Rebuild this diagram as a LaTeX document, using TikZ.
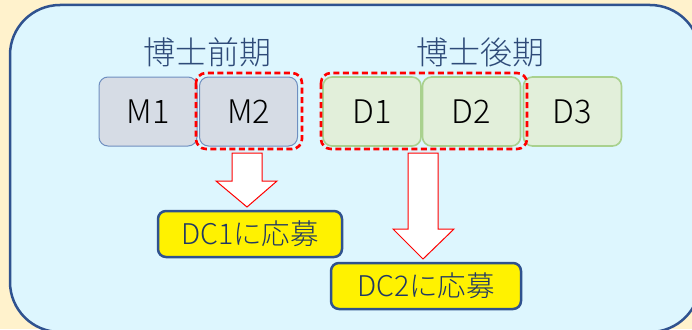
\documentclass[tikz,border=0pt]{standalone}
\usepackage{fontspec}
\setmainfont{Noto Sans CJK JP}[UprightFont=* Light]
\definecolor{bgcream}{HTML}{FFF2CC}
\definecolor{panelfill}{HTML}{DDF6FE}
\definecolor{panelline}{HTML}{2F528F}
\definecolor{titleblue}{HTML}{2E4A78}
\definecolor{mfill}{HTML}{D6DCE5}
\definecolor{mline}{HTML}{6F8FC0}
\definecolor{dfill}{HTML}{E2EFDA}
\definecolor{dline}{HTML}{A9D18E}
\definecolor{dctext}{HTML}{203864}
\tikzset{
  yearbox/.style={rounded corners=9pt, minimum width=98pt, minimum height=69pt, inner sep=0pt, font=\fontsize{32.5}{32.5}\selectfont, text=black},
  mbox/.style={yearbox, fill=mfill, draw=mline, line width=1pt},
  dbox/.style={yearbox, fill=dfill, draw=dline, line width=1.6pt},
  title/.style={inner sep=0pt, text=titleblue, font=\fontsize{32}{32}\selectfont},
  selbox/.style={draw=red, line width=2.6pt, dash pattern=on 6pt off 3.5pt, rounded corners=10pt},
  blockarrow/.style={fill=white, draw=red, line width=1pt, line join=miter},
  dcbox/.style={fill=yellow, draw=panelline, line width=2.5pt, rounded corners=8pt, inner sep=0pt, text=dctext, font=\fontsize{28.5}{28.5}\selectfont}
}
\begin{document}
\begin{tikzpicture}[x=1pt,y=-1pt]
\useasboundingbox (0,0) rectangle (692,329);
\fill[bgcream] (0,0) rectangle (692,329);
\begin{scope}
\clip (0,0) rectangle (692,329);
\draw[fill=panelfill, draw=panelline, line width=2.5pt, rounded corners=50pt] (10,5) rectangle (700,332);
\end{scope}

\node[title] (t1) at (207,52) {博士前期};
\node[title] (t2) at (480,52) {博士後期};

\node[mbox] (m1) at (148,111.5) {M1};
\node[mbox] (m2) at (248.5,111.5) {M2};
\node[dbox] (d1) at (372,111.5) {D1};
\node[dbox] (d2) at (471.5,111.5) {D2};
\node[dbox] (d3) at (572.5,111.5) {D3};

\draw[selbox] (196,73) rectangle (302,149);
\draw[selbox] (321,73) rectangle (527,149);

\draw[blockarrow] (232,153) -- (262,153) -- (262,181) -- (277,181) -- (247,207) -- (216,181) -- (232,181) -- cycle;
\draw[blockarrow] (408,153) -- (438,153) -- (438,229) -- (454,229) -- (423,259) -- (393,229) -- (408,229) -- cycle;

\node[dcbox, minimum width=184pt, minimum height=46pt] (dc1) at (250,234) {DC1に応募};
\node[dcbox, minimum width=190pt, minimum height=46pt] (dc2) at (426,286) {DC2に応募};
\end{tikzpicture}
\end{document}
